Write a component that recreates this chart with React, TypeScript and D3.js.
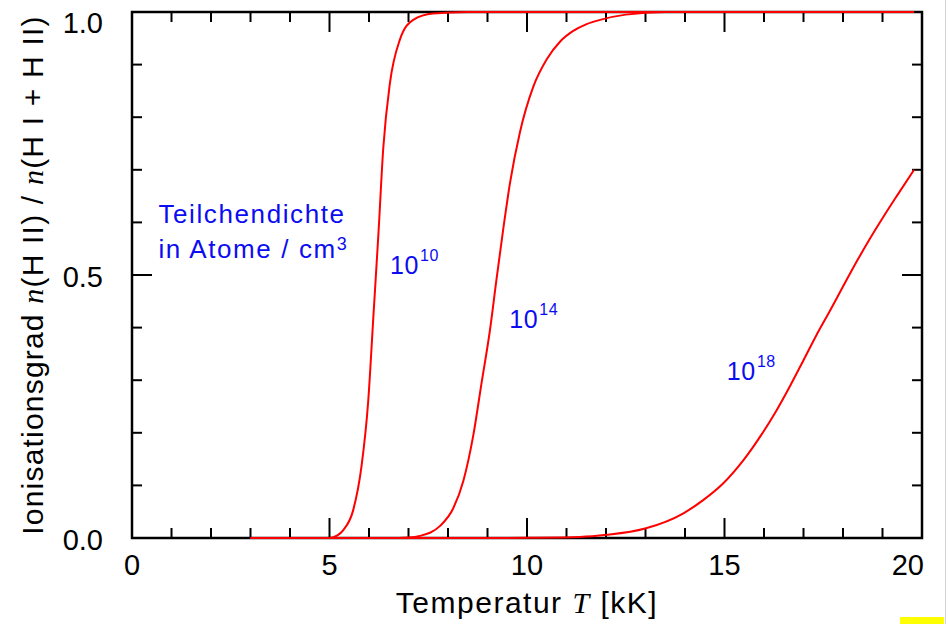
import React, { useEffect } from "react";
import * as d3 from "d3";

// ionisation degree: [T in kK, n(H II)/n(H I + H II)]
const curve1e10: [number, number][] = [
  [3, 0], [5, 0], [5.2, 0.005], [5.35, 0.015], [5.6, 0.053], [5.81, 0.136],
  [5.98, 0.26], [6.11, 0.42], [6.24, 0.58], [6.36, 0.74], [6.53, 0.865],
  [6.78, 0.947], [7.12, 0.985], [7.62, 0.997], [8.5, 1], [19.8, 1],
];
const curve1e14: [number, number][] = [
  [3, 0], [6.5, 0], [7.0, 0.001], [7.29, 0.004], [7.8, 0.023], [8.13, 0.056],
  [8.39, 0.109], [8.64, 0.195], [8.85, 0.295], [9.06, 0.394], [9.23, 0.493],
  [9.4, 0.588], [9.57, 0.675], [9.82, 0.771], [10.16, 0.858], [10.5, 0.91],
  [10.84, 0.944], [11.17, 0.964], [11.51, 0.977], [11.85, 0.985],
  [12.5, 0.995], [13.5, 1], [19.8, 1],
];
const curve1e18: [number, number][] = [
  [3, 0], [9, 0], [10, 0.0005], [11.34, 0.002], [12.02, 0.006], [12.99, 0.018],
  [13.96, 0.047], [14.46, 0.072], [14.97, 0.104], [15.48, 0.148],
  [15.94, 0.197], [16.32, 0.243], [16.66, 0.289], [17.0, 0.338],
  [17.33, 0.386], [17.67, 0.432], [18.0, 0.478], [18.35, 0.526],
  [18.68, 0.569], [19.0, 0.608], [19.36, 0.65], [19.8, 0.7],
];
const curves = [curve1e10, curve1e14, curve1e18];

// density labels: exponent and anchor point in data coords
const exponents = ["10", "14", "18"];
const labelPos: [number, number][] = [[6.53, 0.501], [9.55, 0.399], [15.06, 0.3]];

const xTickLabels = ["0", "5", "10", "15", "20"];
const yTickLabels = ["0.0", "0.5", "1.0"];

const W = 950;
const H = 624;

export default function App() {
  useEffect(() => {
    document.body.style.margin = "0";
  }, []);

  const x = d3.scaleLinear().domain([0, 20]).range([132, 922]);
  const y = d3.scaleLinear().domain([0, 1]).range([538, 12]);

  const line = d3
    .line<[number, number]>()
    .x((d) => x(d[0]))
    .y((d) => y(d[1]))
    .curve(d3.curveMonotoneX);

  const xTicks = d3.range(0, 21);
  const yTicks = d3.range(0, 11);
  const major = 20;
  const minor = 10;
  const sans = "'Liberation Sans', Arial, Helvetica, sans-serif";
  const serif = "'Liberation Serif', 'Times New Roman', serif";
  const blue = "#0c0cf2";

  return (
    <svg width={W} height={H} style={{ display: "block", background: "#fff" }} fontFamily={sans}>
      {/* frame */}
      <rect x={x(0)} y={y(1)} width={x(20) - x(0)} height={y(0) - y(1)}
        fill="none" stroke="#000" strokeWidth={2.5} />

      {/* x ticks, bottom and top */}
      {xTicks.map((t) => {
        const len = t % 5 === 0 ? major : minor;
        return (
          <g key={"xt" + t} stroke="#000" strokeWidth={2}>
            <line x1={x(t)} x2={x(t)} y1={y(0)} y2={y(0) - len} />
            <line x1={x(t)} x2={x(t)} y1={y(1)} y2={y(1) + len} />
          </g>
        );
      })}
      {/* y ticks, left and right */}
      {yTicks.map((i) => {
        const len = i % 5 === 0 ? major : minor;
        const v = i / 10;
        return (
          <g key={"yt" + i} stroke="#000" strokeWidth={2}>
            <line x1={x(0)} x2={x(0) + len} y1={y(v)} y2={y(v)} />
            <line x1={x(20)} x2={x(20) - len} y1={y(v)} y2={y(v)} />
          </g>
        );
      })}

      {/* tick labels */}
      {xTickLabels.map((s, i) => (
        <text key={"xl" + s} x={x(i * 5)} y={575} fontSize={29}
          textAnchor={i === xTickLabels.length - 1 ? "end" : "middle"}
          dx={i === xTickLabels.length - 1 ? 2 : 0}>
          {s}
        </text>
      ))}
      {yTickLabels.map((s, i) => (
        <text key={"yl" + s} x={103} y={y(i * 0.5)} dy={i === 2 ? 21 : 11.5}
          fontSize={29} textAnchor="end">
          {s}
        </text>
      ))}

      {/* axis titles */}
      <text x={(x(0) + x(20)) / 2} y={613} fontSize={30} textAnchor="middle" letterSpacing={1.5}>
        Temperatur <tspan fontFamily={serif} fontStyle="italic">T</tspan> [kK]
      </text>
      <text transform={`translate(43,${(y(0) + y(1)) / 2}) rotate(-90)`} fontSize={30}
        textAnchor="middle" letterSpacing={1.2}>
        Ionisationsgrad <tspan fontFamily={serif} fontStyle="italic">n</tspan>(H II) /{" "}
        <tspan fontFamily={serif} fontStyle="italic">n</tspan>(H I + H II)
      </text>

      {/* curves */}
      {curves.map((c, i) => (
        <path key={"c" + i} d={line(c) || ""} fill="none" stroke="#ff0000" strokeWidth={2} />
      ))}

      {/* annotations */}
      <g fill={blue} fontSize={26} letterSpacing={1.6}>
        <text x={x(0.67)} y={y(0.599)}>Teilchendichte</text>
        <text x={x(0.67)} y={y(0.532)}>
          in Atome / cm<tspan fontSize={18} dy={-8} letterSpacing={0}>3</tspan>
        </text>
      </g>
      {exponents.map((e, i) => (
        <text key={"lab" + e} x={x(labelPos[i][0])} y={y(labelPos[i][1])} fill={blue} fontSize={25}
          letterSpacing={0.6}>
          10<tspan fontSize={16} dy={-13} dx={1}>{e}</tspan>
        </text>
      ))}

      {/* stray marks at the picture edge */}
      <line x1={945.5} x2={945.5} y1={0} y2={H} stroke="#d4d4d4" strokeWidth={1} />
      <rect x={900} y={617} width={44} height={7} fill="#ffff00" />
    </svg>
  );
}
